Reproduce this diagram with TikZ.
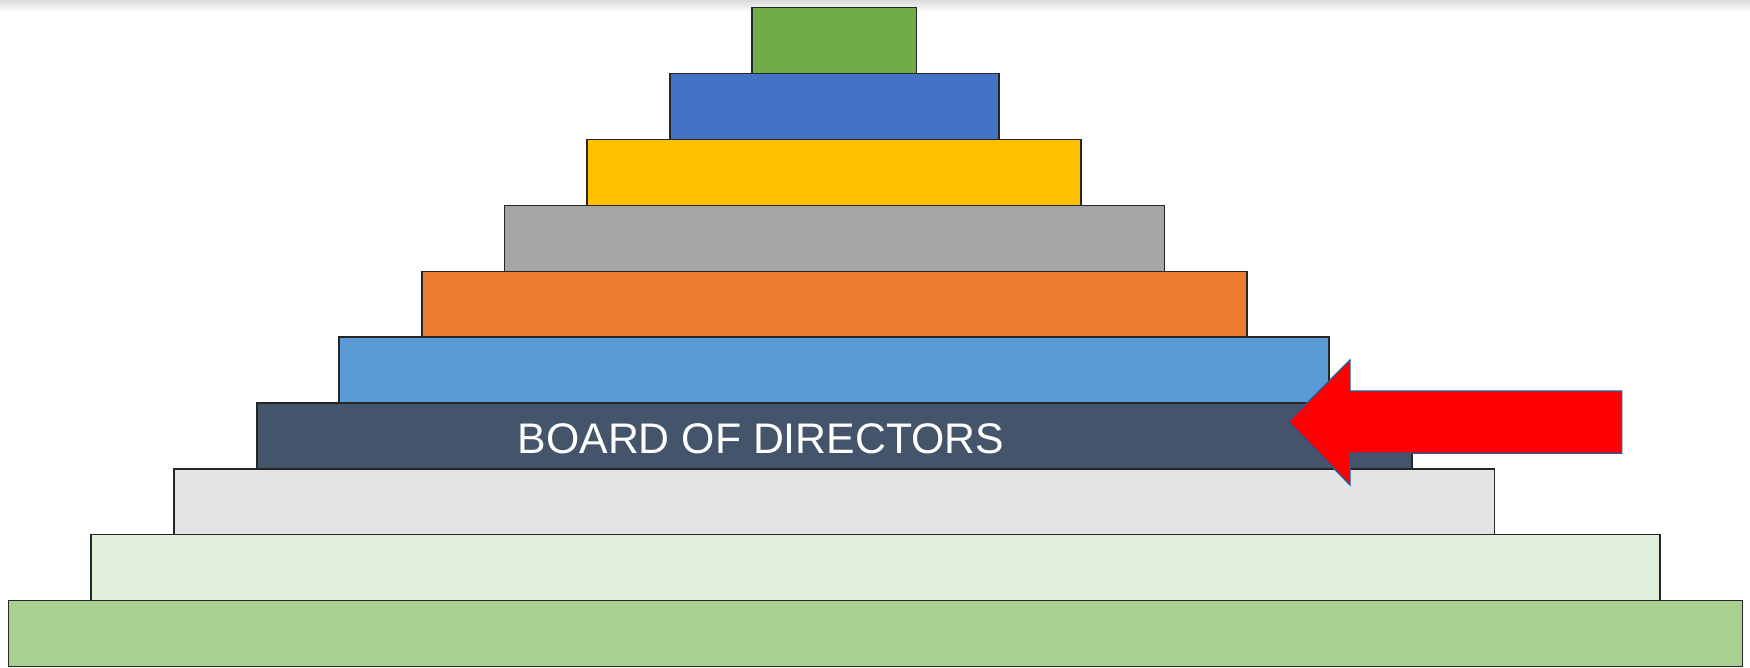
\documentclass[tikz,border=0pt]{standalone}
\usepackage{fontspec}
\setmainfont{Liberation Sans}
\begin{document}
\begin{tikzpicture}[x=1pt,y=-1pt,
  tier/.style={draw=black!85, line width=1.3pt, anchor=north west, inner sep=0pt, outer sep=0pt},
]
\definecolor{cGreenTop}{HTML}{70AD47}
\definecolor{cBlue}{HTML}{4472C4}
\definecolor{cYellow}{HTML}{FFC000}
\definecolor{cGray}{HTML}{A5A5A5}
\definecolor{cOrange}{HTML}{ED7D31}
\definecolor{cLBlue}{HTML}{5B9BD5}
\definecolor{cSlate}{HTML}{44546A}
\definecolor{cLGray}{HTML}{E4E4E4}
\definecolor{cLGreen}{HTML}{E2EFDA}
\definecolor{cGreenBot}{HTML}{A9D08E}
\definecolor{cArrowEdge}{HTML}{1F5FA0}
\useasboundingbox (0,0) rectangle (1750,668);
\fill[white] (0,0) rectangle (1750,668);
\shade[top color=black!14, bottom color=white] (0,0) rectangle (1750,12);
% tiers: top y = 7.6 + 65.9 k
\def\rh{65.9}
\node[tier, fill=cGreenBot, minimum width=1734.5pt, minimum height=\rh pt] (t10) at (8.3,600.7) {};
\node[tier, fill=cLGreen, minimum width=1569pt, minimum height=\rh pt] (t9) at (91,534.8) {};
\node[tier, fill=cLGray, minimum width=1320.5pt, minimum height=\rh pt] (t8) at (174,468.9) {};
\node[tier, fill=cSlate, minimum width=1155pt, minimum height=\rh pt] (t7) at (257,403) {};
\node[tier, fill=cLBlue, minimum width=990pt, minimum height=\rh pt] (t6) at (339,337.1) {};
\node[tier, fill=cOrange, minimum width=825pt, minimum height=\rh pt] (t5) at (422,271.2) {};
\node[tier, fill=cGray, minimum width=660pt, minimum height=\rh pt] (t4) at (504.5,205.3) {};
\node[tier, fill=cYellow, minimum width=494pt, minimum height=\rh pt] (t3) at (587,139.4) {};
\node[tier, fill=cBlue, minimum width=329pt, minimum height=\rh pt] (t2) at (670,73.5) {};
\node[tier, fill=cGreenTop, minimum width=164.5pt, minimum height=\rh pt] (t1) at (752,7.6) {};
\node[text=white, font=\fontsize{42.8pt}{48pt}\selectfont, inner sep=0pt] (lbl) at (761,438.5) {BOARD OF DIRECTORS};
% arrow
\draw[fill=red, draw=cArrowEdge, line width=1.3pt, line join=miter]
  (1288.3,421.7) -- (1350,360) -- (1350,391) -- (1621.7,391) -- (1621.7,453.3)
  -- (1350,453.3) -- (1350,485) -- cycle;
\end{tikzpicture}
\end{document}
